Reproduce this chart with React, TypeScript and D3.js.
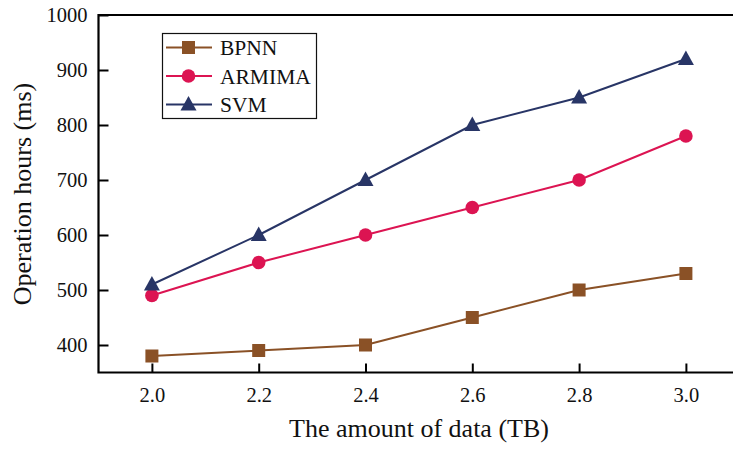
import React, { useRef, useEffect } from "react";
import * as d3 from "d3";

const xValues = [2.0, 2.2, 2.4, 2.6, 2.8, 3.0];
const bpnn = [380, 390, 400, 450, 500, 530];
const armima = [490, 550, 600, 650, 700, 780];
const svm = [510, 600, 700, 800, 850, 920];
const xTicks = [2.0, 2.2, 2.4, 2.6, 2.8, 3.0];
const yTicks = [400, 500, 600, 700, 800, 900, 1000];

const series = [
  { name: "BPNN", values: bpnn, color: "#8a5126", marker: "square" },
  { name: "ARMIMA", values: armima, color: "#dc1452", marker: "circle" },
  { name: "SVM", values: svm, color: "#283566", marker: "triangle" },
];

const W = 733;
const H = 450;
const FONT = "'Liberation Serif', 'Times New Roman', serif";

function LineChart() {
  const svgRef = useRef<SVGSVGElement>(null);

  useEffect(() => {
    const svg = d3.select(svgRef.current);
    svg.selectAll("*").remove();

    const left = 98.5;
    const top = 15;
    const bottom = 372.5;

    // x runs past the right edge of the picture, as in the source
    const x = d3.scaleLinear().domain([1.9, 3.1]).range([left, left + 640.8]);
    const y = d3.scaleLinear().domain([350, 1000]).range([bottom, top]);

    // axes with inward ticks
    const xAxis = d3
      .axisBottom(x)
      .tickValues(xTicks)
      .tickSize(-9)
      .tickPadding(15)
      .tickFormat(d3.format(".1f"));
    const gx = svg
      .append("g")
      .attr("transform", `translate(0,${bottom})`)
      .call(xAxis);

    const yAxis = d3
      .axisLeft(y)
      .tickValues(yTicks)
      .tickSize(-10)
      .tickPadding(11)
      .tickFormat(d3.format("d"));
    const gy = svg.append("g").attr("transform", `translate(${left},0)`).call(yAxis);

    [gx, gy].forEach((g) => {
      g.select(".domain").remove();
      g.selectAll("line").attr("stroke", "#000").attr("stroke-width", 2);
      g.selectAll("text")
        .attr("fill", "#111")
        .style("font-family", FONT)
        .style("font-size", "20.5px");
    });

    // frame: left, bottom, top
    svg
      .append("path")
      .attr("d", `M${W},${top}H${left}V${bottom}H${W}`)
      .attr("fill", "none")
      .attr("stroke", "#000")
      .attr("stroke-width", 2.2);

    const lineGen = d3
      .line<number>()
      .x((d, i) => x(xValues[i]))
      .y((d) => y(d));

    const drawMarker = (
      g: d3.Selection<SVGGElement, unknown, null, undefined>,
      kind: string,
      cx: number,
      cy: number,
      color: string
    ) => {
      if (kind === "square") {
        g.append("rect")
          .attr("x", cx - 6.5)
          .attr("y", cy - 6.5)
          .attr("width", 13)
          .attr("height", 13)
          .attr("fill", color);
      } else if (kind === "circle") {
        g.append("circle").attr("cx", cx).attr("cy", cy).attr("r", 6.8).attr("fill", color);
      } else {
        g.append("path")
          .attr("d", `M${cx},${cy - 8.5}L${cx + 8},${cy + 6}L${cx - 8},${cy + 6}Z`)
          .attr("fill", color);
      }
    };

    series.forEach((s) => {
      const g = svg.append("g");
      g.append("path")
        .datum(s.values)
        .attr("d", lineGen)
        .attr("fill", "none")
        .attr("stroke", s.color)
        .attr("stroke-width", 2);
      s.values.forEach((v, i) => drawMarker(g, s.marker, x(xValues[i]), y(v), s.color));
    });

    // legend
    const lg = svg.append("g");
    lg.append("rect")
      .attr("x", 162.5)
      .attr("y", 33.5)
      .attr("width", 154)
      .attr("height", 85)
      .attr("fill", "#fff")
      .attr("stroke", "#111")
      .attr("stroke-width", 1.2);
    series.forEach((s, i) => {
      const ly = 47.5 + i * 28.5;
      lg.append("line")
        .attr("x1", 166)
        .attr("x2", 212)
        .attr("y1", ly)
        .attr("y2", ly)
        .attr("stroke", s.color)
        .attr("stroke-width", 2);
      drawMarker(lg, s.marker, 188.5, ly, s.color);
      lg.append("text")
        .attr("x", 220)
        .attr("y", ly)
        .attr("dy", "0.35em")
        .attr("fill", "#111")
        .style("font-family", FONT)
        .style("font-size", "21.5px")
        .text(s.name);
    });

    // axis titles
    svg
      .append("text")
      .attr("x", 419)
      .attr("y", 437)
      .attr("text-anchor", "middle")
      .attr("fill", "#111")
      .style("font-family", FONT)
      .style("font-size", "26px")
      .text("The amount of data (TB)");

    svg
      .append("text")
      .attr("transform", `translate(31,194) rotate(-90)`)
      .attr("text-anchor", "middle")
      .attr("fill", "#111")
      .style("font-family", FONT)
      .style("font-size", "26px")
      .text("Operation hours (ms)");
  }, []);

  return (
    <svg
      ref={svgRef}
      width={W}
      height={H}
      style={{ position: "absolute", left: 0, top: 0, background: "#fff" }}
    />
  );
}

export default function App() {
  return <LineChart />;
}
